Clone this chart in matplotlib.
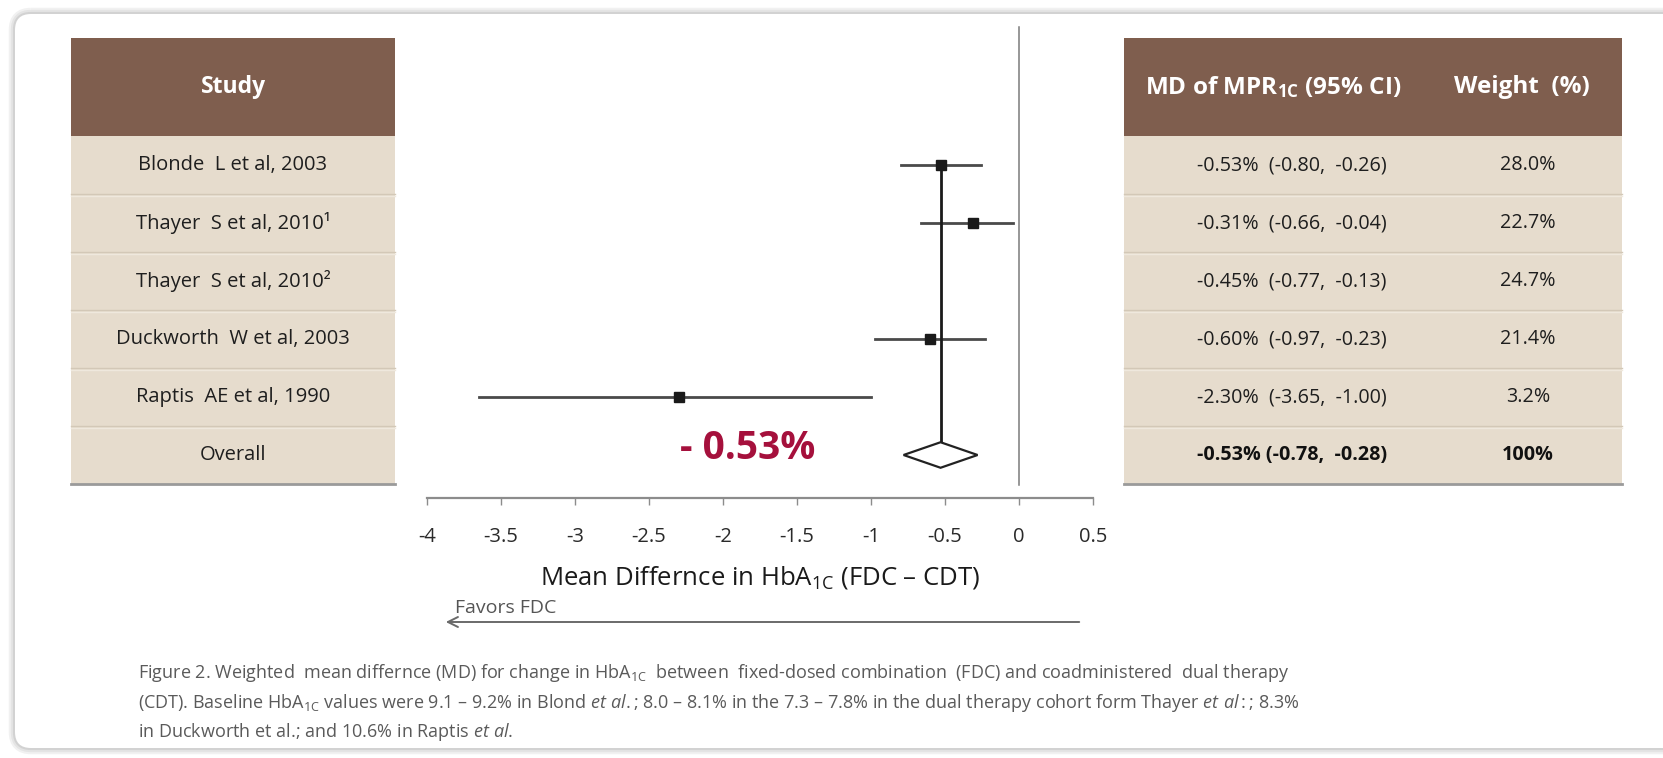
import numpy as np
import matplotlib
matplotlib.use("Agg")
import matplotlib.pyplot as plt
from matplotlib.patches import Rectangle, FancyBboxPatch, Polygon

plt.rcParams['font.family'] = ['Open Sans', 'DejaVu Sans']
plt.rcParams['axes.unicode_minus'] = False
plt.rcParams['mathtext.fontset'] = 'custom'
plt.rcParams['mathtext.rm'] = 'Open Sans'
plt.rcParams['mathtext.it'] = 'Open Sans:italic'
plt.rcParams['mathtext.bf'] = 'Open Sans:bold'

# studies and their mean differences (%) with 95% CI
studies = ['Blonde  L et al, 2003', 'Thayer  S et al, 2010¹', 'Thayer  S et al, 2010²',
           'Duckworth  W et al, 2003', 'Raptis  AE et al, 1990']
md = [-0.53, -0.31, -0.45, -0.60, -2.30]
ci_low = [-0.80, -0.66, -0.77, -0.97, -3.65]
ci_high = [-0.26, -0.04, -0.13, -0.23, -1.00]
weights = [28.0, 22.7, 24.7, 21.4, 3.2]
drawn = [True, True, False, True, True]   # rows that get a point on the plot

overall_md = -0.53
overall_low = -0.78
overall_high = -0.28
overall_weight = 100

xticks = [-4, -3.5, -3, -2.5, -2, -1.5, -1, -0.5, 0, 0.5]
xtick_labels = ['-4', '-3.5', '-3', '-2.5', '-2', '-1.5', '-1', '-0.5', '0', '0.5']

W, H = 1663, 758
fig = plt.figure(figsize=(W / 100, H / 100), dpi=100)

# background layer in pixel units
bg = fig.add_axes([0, 0, 1, 1])
bg.set_xlim(0, W)
bg.set_ylim(H, 0)
bg.axis('off')

# card frame with soft shadow
for lw, col in [(9, '#f1f1f1'), (6, '#e4e4e4'), (3, '#d2d2d2')]:
    bg.add_patch(FancyBboxPatch((15, 14), 1720, 734, boxstyle='round,pad=0,rounding_size=16',
                                facecolor='none', edgecolor=col, lw=lw, zorder=1))
bg.add_patch(FancyBboxPatch((15, 14), 1720, 734, boxstyle='round,pad=0,rounding_size=16',
                            facecolor='white', edgecolor='none', zorder=1.5))

HEAD_TOP, ROW_TOP, ROW_H = 38, 136, 58
n_rows = len(studies) + 1
TABLE_BOTTOM = ROW_TOP + n_rows * ROW_H
brown = '#7f5e4e'
beige = '#e6dccd'


def draw_table(x0, x1):
    bg.add_patch(Rectangle((x0, HEAD_TOP), x1 - x0, ROW_TOP - HEAD_TOP,
                           facecolor=brown, edgecolor='none', zorder=2))
    bg.add_patch(Rectangle((x0, ROW_TOP), x1 - x0, TABLE_BOTTOM - ROW_TOP,
                           facecolor=beige, edgecolor='none', zorder=2))
    for i in range(1, n_rows):
        y = ROW_TOP + i * ROW_H
        bg.plot([x0, x1], [y, y], color='#d3c8b7', lw=1, zorder=3)
        bg.plot([x0, x1], [y + 1.5, y + 1.5], color='#efe8dd', lw=1, zorder=3)
    bg.plot([x0, x1], [TABLE_BOTTOM, TABLE_BOTTOM], color='#9a9a9a', lw=2, zorder=3)


# left table: study names
draw_table(71, 395)
cx_left = 233
bg.text(cx_left, (HEAD_TOP + ROW_TOP) / 2, 'Study', color='white', fontsize=16.5,
        fontweight='bold', ha='center', va='center', zorder=4)
for i, name in enumerate(studies + ['Overall']):
    bg.text(cx_left, ROW_TOP + (i + 0.5) * ROW_H, name, color='#1e1e1e', fontsize=14.5,
            ha='center', va='center', zorder=4)

# right table: effect sizes and weights
draw_table(1124, 1622)
cx_md_head, cx_md, cx_w = 1273, 1292, 1528
bg.text(cx_md_head, (HEAD_TOP + ROW_TOP) / 2, r'MD of MPR$\mathbf{_{1C}}$ (95% CI)',
        color='white', fontsize=17.5, fontweight='bold', ha='center', va='center', zorder=4)
bg.text(cx_w - 6, (HEAD_TOP + ROW_TOP) / 2, 'Weight  (%)', color='white', fontsize=17.5,
        fontweight='bold', ha='center', va='center', zorder=4)
for i in range(len(studies)):
    y = ROW_TOP + (i + 0.5) * ROW_H
    bg.text(cx_md, y, f'{md[i]:.2f}%  ({ci_low[i]:.2f},  {ci_high[i]:.2f})', color='#1e1e1e',
            fontsize=14.2, ha='center', va='center', zorder=4)
    bg.text(cx_w, y, f'{weights[i]:.1f}%', color='#1e1e1e', fontsize=14.2,
            ha='center', va='center', zorder=4)
y = ROW_TOP + (n_rows - 0.5) * ROW_H
bg.text(cx_md, y, f'{overall_md:.2f}% ({overall_low:.2f},  {overall_high:.2f})', color='#111111',
        fontsize=14.2, fontweight='bold', ha='center', va='center', zorder=4)
bg.text(cx_w, y, f'{overall_weight}%', color='#111111', fontsize=14.2, fontweight='bold',
        ha='center', va='center', zorder=4)

# forest plot axes, y in row units (0 = top of first study row)
AX_L, AX_R, AX_T, AX_B = 427, 1093, 27, 498
ax = fig.add_axes([AX_L / W, 1 - AX_B / H, (AX_R - AX_L) / W, (AX_B - AX_T) / H])
ax.patch.set_alpha(0)
ax.set_xlim(-4, 0.5)
ax.set_ylim((AX_B - ROW_TOP) / ROW_H, (AX_T - ROW_TOP) / ROW_H)
for s in ['top', 'left', 'right']:
    ax.spines[s].set_visible(False)
ax.spines['bottom'].set_color('#8c8c8c')
ax.spines['bottom'].set_linewidth(1.6)
ax.set_yticks([])
ax.set_xticks(xticks)
ax.set_xticklabels(xtick_labels)
ax.tick_params(axis='x', direction='out', length=5, width=1, color='#8c8c8c',
               labelsize=14.5, labelcolor='#2a2a2a', pad=16)

# line of no effect
ax.plot([0, 0], [(AX_T - ROW_TOP) / ROW_H, (485 - ROW_TOP) / ROW_H], color='#7a7a7a', lw=1.1,
        clip_on=False)

rows = np.arange(len(studies)) + 0.5
for i in range(len(studies)):
    if not drawn[i]:
        continue
    ax.plot([ci_low[i], ci_high[i]], [rows[i], rows[i]], color='#4a4a4a', lw=2, zorder=3)
    ax.plot(md[i], rows[i], marker='s', ms=6.5, color='#1a1a1a', zorder=4)

# pooled estimate
yo = n_rows - 0.5
dh = 0.22
ax.add_patch(Polygon([[overall_low, yo], [overall_md, yo - dh], [overall_high, yo],
                      [overall_md, yo + dh]], closed=True, facecolor='white',
                     edgecolor='#222222', lw=1.6, zorder=4))
ax.plot([overall_md, overall_md], [rows[0], yo - dh], color='#1a1a1a', lw=2, zorder=3)
ax.text(-1.83, yo - 0.12, f'- {abs(overall_md):.2f}%', color='#a5103c', fontsize=28,
        fontweight='bold', ha='center', va='center', zorder=5)

ax.set_xlabel(r'Mean Differnce in HbA$_{\mathrm{1C}}$ (FDC – CDT)', fontsize=18.5,
              color='#1a1a1a', labelpad=12)

# direction arrow
bg.annotate('', xy=(443, 622), xytext=(1082, 622),
            arrowprops=dict(arrowstyle='->', color='#6a6a6a', lw=1.4,
                            mutation_scale=18), zorder=4)
bg.text(455, 608, 'Favors FDC', color='#555555', fontsize=14, ha='left', va='center',
        zorder=4)

# figure caption
cap = [r'Figure 2. Weighted  mean differnce (MD) for change in HbA$_{\mathrm{1C}}$  between  '
       r'fixed-dosed combination  (FDC) and coadministered  dual therapy',
       r'(CDT). Baseline HbA$_{\mathrm{1C}}$ values were 9.1 – 9.2% in Blond $\mathit{et\ al.}$; '
       r'8.0 – 8.1% in the 7.3 – 7.8% in the dual therapy cohort form Thayer $\mathit{et\ al:}$; 8.3%',
       r'in Duckworth et al.; and 10.6% in Raptis $\mathit{et\ al.}$']
for k, line in enumerate(cap):
    bg.text(138, 673 + 29.5 * k, line, color='#5a5a5a', fontsize=13, ha='left', va='center',
            zorder=4)

fig.savefig('out.png', dpi=100, facecolor='white')
